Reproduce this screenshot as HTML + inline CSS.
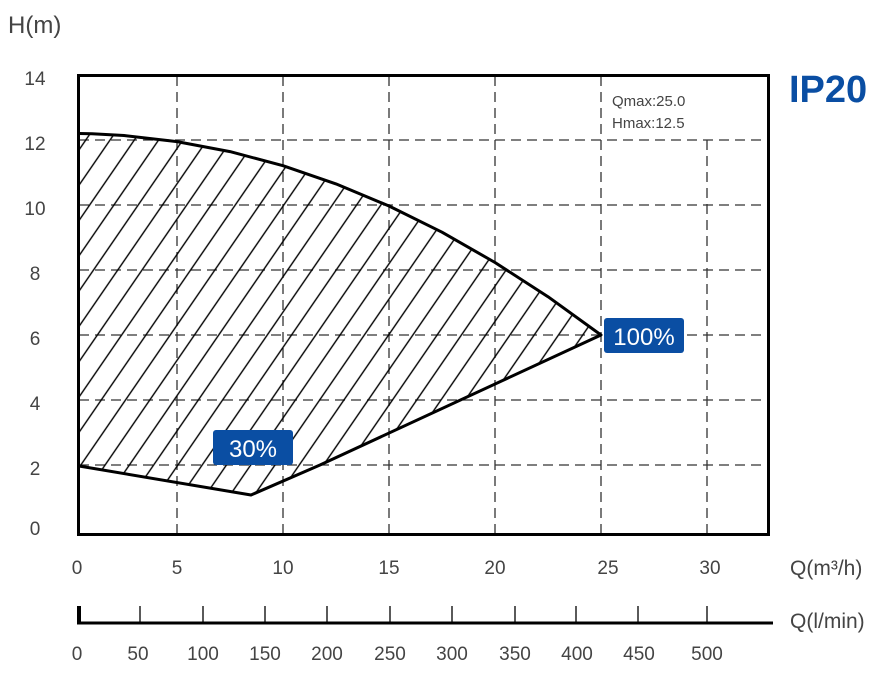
<!DOCTYPE html>
<html><head><style>
html,body{margin:0;padding:0;background:#fff;}
svg{display:block;font-family:"Liberation Sans",sans-serif;}
</style></head><body>
<svg width="886" height="673" viewBox="0 0 886 673" xmlns="http://www.w3.org/2000/svg">
<defs>
<pattern id="h" patternUnits="userSpaceOnUse" width="20" height="20" patternTransform="rotate(34.5)">
<line x1="10" y1="-5" x2="10" y2="25" stroke="#000" stroke-width="1.4"/>
</pattern>
<clipPath id="c"><rect x="79" y="76" width="688" height="457"/></clipPath>
</defs>
<text x="8" y="33" font-size="24" fill="#444">H(m)</text>
<g stroke="#333" stroke-width="1.3" stroke-dasharray="10,6" fill="none">
<line x1="79" y1="140" x2="767" y2="140"/>
<line x1="79" y1="205" x2="767" y2="205"/>
<line x1="79" y1="270" x2="767" y2="270"/>
<line x1="79" y1="335" x2="767" y2="335"/>
<line x1="79" y1="400" x2="767" y2="400"/>
<line x1="79" y1="465" x2="767" y2="465"/>
<line x1="177" y1="76" x2="177" y2="533"/>
<line x1="283" y1="76" x2="283" y2="533"/>
<line x1="389" y1="76" x2="389" y2="533"/>
<line x1="495" y1="76" x2="495" y2="533"/>
<line x1="601" y1="76" x2="601" y2="533"/>
<line x1="707" y1="140" x2="707" y2="533"/>
</g>
<g clip-path="url(#c)">
<path d="M79,133.5 L92,133.8 L124,135.5 L177,141.6 L230,151.6 L283,165.7 L336,183.9 L389,206 L442,232.2 L495,262.5 L548,296.7 L601,335 L320,465 L251,495 L79,466 Z" fill="url(#h)" stroke="none"/>
</g>
<path d="M79,133.5 L92,133.8 L124,135.5 L177,141.6 L230,151.6 L283,165.7 L336,183.9 L389,206 L442,232.2 L495,262.5 L548,296.7 L601,335 L320,465 L251,495 L79,466" fill="none" stroke="#000" stroke-width="3" stroke-linejoin="round"/>
<rect x="78.5" y="75.5" width="690" height="459" fill="none" stroke="#000" stroke-width="3"/>
<text x="612" y="106" font-size="15" fill="#444">Qmax:25.0</text>
<text x="612" y="128" font-size="15" fill="#444">Hmax:12.5</text>
<text x="789" y="102" font-size="38" font-weight="bold" fill="#0a4ea3">IP20</text>
<rect x="213" y="430" width="80" height="35" rx="3" fill="#0a4ea3"/>
<text x="253" y="457" font-size="24" fill="#fff" text-anchor="middle">30%</text>
<rect x="604" y="318" width="80" height="35" rx="3" fill="#0a4ea3"/>
<text x="644" y="345" font-size="24" fill="#fff" text-anchor="middle">100%</text>
<g font-size="19" fill="#444" text-anchor="middle">
<text x="35" y="85">14</text><text x="35" y="150">12</text><text x="35" y="215">10</text>
<text x="35" y="280">8</text><text x="35" y="345">6</text><text x="35" y="410">4</text>
<text x="35" y="475">2</text><text x="35" y="535">0</text>
<text x="77" y="574">0</text><text x="177" y="574">5</text><text x="283" y="574">10</text>
<text x="389" y="574">15</text><text x="495" y="574">20</text><text x="608" y="574">25</text><text x="710" y="574">30</text>
<text x="77" y="660">0</text><text x="138" y="660">50</text><text x="203" y="660">100</text>
<text x="265" y="660">150</text><text x="327" y="660">200</text><text x="390" y="660">250</text>
<text x="452" y="660">300</text><text x="515" y="660">350</text><text x="577" y="660">400</text>
<text x="639" y="660">450</text><text x="707" y="660">500</text>
</g>
<text x="790" y="575" font-size="21" fill="#444">Q(m³/h)</text>
<text x="790" y="628" font-size="21" fill="#444">Q(l/min)</text>
<line x1="77" y1="623" x2="773" y2="623" stroke="#000" stroke-width="3"/>
<line x1="79" y1="606" x2="79" y2="624" stroke="#000" stroke-width="4"/>
<g stroke="#000" stroke-width="1.3">
<line x1="140" y1="606" x2="140" y2="623"/><line x1="203" y1="606" x2="203" y2="623"/>
<line x1="265" y1="606" x2="265" y2="623"/><line x1="327" y1="606" x2="327" y2="623"/>
<line x1="390" y1="606" x2="390" y2="623"/><line x1="452" y1="606" x2="452" y2="623"/>
<line x1="515" y1="606" x2="515" y2="623"/><line x1="576" y1="606" x2="576" y2="623"/>
<line x1="638" y1="606" x2="638" y2="623"/><line x1="707" y1="606" x2="707" y2="623"/>
</g>
</svg>
</body></html>
